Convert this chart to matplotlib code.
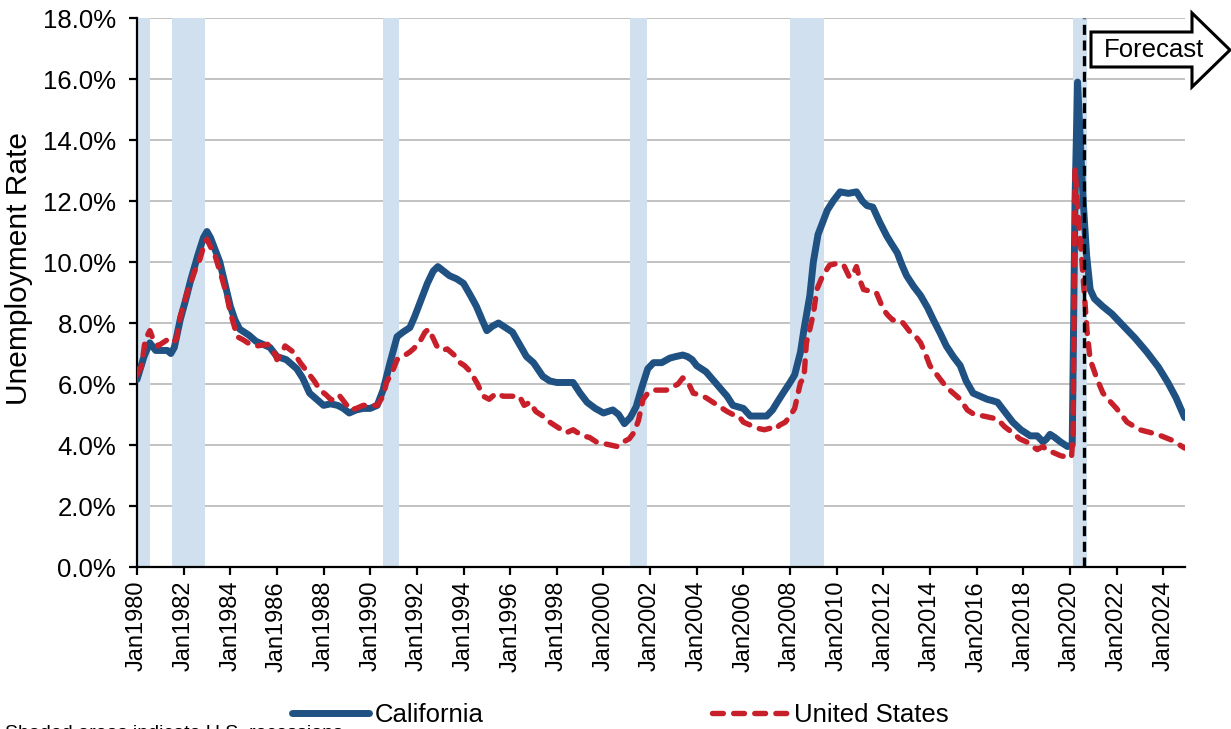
import matplotlib.pyplot as plt
from matplotlib.patches import Polygon

plt.rcParams['font.family'] = ['Liberation Sans', 'DejaVu Sans']

# California unemployment rate (%)
ca_years = [1980.0, 1980.3, 1980.55, 1980.8, 1981.0, 1981.3, 1981.45, 1981.6, 1981.85, 1982.1,
            1982.3, 1982.6, 1982.85, 1983.0, 1983.15, 1983.35, 1983.55, 1983.8, 1984.0, 1984.2,
            1984.4, 1984.8, 1985.1, 1985.4, 1985.7, 1986.0, 1986.4, 1986.85, 1987.1, 1987.4,
            1987.7, 1988.0, 1988.3, 1988.6, 1988.85, 1989.1, 1989.4, 1989.7, 1990.0, 1990.3,
            1990.55, 1990.85, 1991.15, 1991.4, 1991.7, 1991.9, 1992.15, 1992.45, 1992.7, 1992.9,
            1993.15, 1993.4, 1993.7, 1994.0, 1994.3, 1994.55, 1994.8, 1995.0, 1995.25, 1995.5,
            1995.8, 1996.1, 1996.4, 1996.7, 1997.0, 1997.4, 1997.7, 1998.0, 1998.4, 1998.7,
            1999.0, 1999.3, 1999.65, 2000.0, 2000.4, 2000.65, 2000.9, 2001.15, 2001.4, 2001.65,
            2001.9, 2002.15, 2002.5, 2002.85, 2003.1, 2003.4, 2003.6, 2003.8, 2004.0, 2004.4,
            2004.85, 2005.3, 2005.55, 2006.0, 2006.3, 2006.65, 2007.0, 2007.25, 2007.45, 2007.7,
            2008.0, 2008.2, 2008.45, 2008.6, 2008.85, 2009.0, 2009.2, 2009.4, 2009.6, 2009.85,
            2010.15, 2010.5, 2010.85, 2011.1, 2011.3, 2011.55, 2011.85, 2012.15, 2012.35, 2012.6,
            2012.8, 2013.0, 2013.3, 2013.6, 2013.9, 2014.15, 2014.45, 2014.7, 2015.0, 2015.3,
            2015.55, 2015.85, 2016.15, 2016.45, 2016.7, 2016.9, 2017.2, 2017.55, 2017.9, 2018.3,
            2018.6, 2018.85, 2019.0, 2019.15, 2019.35, 2019.6, 2019.9, 2020.1, 2020.22, 2020.33,
            2020.57, 2020.72, 2020.87, 2021.05, 2021.4, 2021.8, 2022.3, 2022.8, 2023.3, 2023.8,
            2024.2, 2024.55, 2024.92]
ca_rate = [6.15, 6.9, 7.35, 7.1, 7.1, 7.1, 7.0, 7.2, 8.1, 8.8,
           9.4, 10.2, 10.8, 11.0, 10.8, 10.4, 10.0, 9.2, 8.55, 8.1,
           7.8, 7.6, 7.4, 7.3, 7.2, 6.9, 6.8, 6.5, 6.2, 5.7,
           5.5, 5.3, 5.35, 5.3, 5.2, 5.05, 5.15, 5.2, 5.2, 5.3,
           5.8, 6.7, 7.55, 7.7, 7.85, 8.2, 8.7, 9.3, 9.7, 9.85,
           9.7, 9.55, 9.45, 9.3, 8.9, 8.55, 8.1, 7.75, 7.9, 8.0,
           7.85, 7.7, 7.3, 6.9, 6.7, 6.25, 6.1, 6.05, 6.05, 6.05,
           5.7, 5.4, 5.2, 5.05, 5.15, 5.0, 4.7, 4.9, 5.25, 5.9,
           6.5, 6.7, 6.7, 6.85, 6.9, 6.95, 6.9, 6.8, 6.6, 6.4,
           6.0, 5.6, 5.3, 5.2, 4.95, 4.95, 4.95, 5.15, 5.4, 5.7,
           6.05, 6.3, 7.05, 7.8, 8.9, 10.0, 10.9, 11.3, 11.7, 12.0,
           12.3, 12.25, 12.3, 12.0, 11.85, 11.8, 11.3, 10.85, 10.6, 10.3,
           9.9, 9.55, 9.2, 8.9, 8.5, 8.1, 7.65, 7.25, 6.9, 6.6,
           6.1, 5.7, 5.6, 5.5, 5.45, 5.4, 5.1, 4.75, 4.5, 4.3,
           4.3, 4.1, 4.2, 4.35, 4.25, 4.1, 3.95, 4.0, 12.0, 15.9,
           12.0, 10.2, 9.1, 8.8, 8.55, 8.3, 7.9, 7.5, 7.05, 6.55,
           6.05, 5.55, 4.9]

# United States unemployment rate (%)
us_years = [1980.0, 1980.2, 1980.35, 1980.55, 1980.7, 1980.9, 1981.1, 1981.3, 1981.55, 1981.7,
            1981.85, 1982.15, 1982.5, 1982.7, 1982.85, 1983.0, 1983.15, 1983.35, 1983.65, 1983.85,
            1984.0, 1984.3, 1984.55, 1984.85, 1985.15, 1985.6, 1985.85, 1986.0, 1986.2, 1986.35,
            1986.7, 1987.0, 1987.3, 1987.6, 1987.85, 1988.1, 1988.3, 1988.5, 1988.7, 1988.95,
            1989.15, 1989.4, 1989.7, 1990.0, 1990.3, 1990.55, 1990.7, 1991.0, 1991.15, 1991.4,
            1991.7, 1991.85, 1992.1, 1992.35, 1992.5, 1992.7, 1992.85, 1993.1, 1993.3, 1993.6,
            1993.85, 1994.05, 1994.3, 1994.6, 1994.85, 1995.1, 1995.4, 1995.7, 1996.0, 1996.4,
            1996.6, 1996.85, 1997.1, 1997.4, 1997.7, 1998.0, 1998.4, 1998.7, 1999.1, 1999.4,
            1999.7, 2000.0, 2000.3, 2000.6, 2000.85, 2001.1, 2001.3, 2001.5, 2001.7, 2001.9,
            2002.15, 2002.4, 2002.7, 2002.95, 2003.2, 2003.4, 2003.6, 2003.85, 2004.1, 2004.4,
            2004.7, 2005.0, 2005.3, 2005.55, 2005.8, 2006.0, 2006.3, 2006.6, 2006.9, 2007.15,
            2007.35, 2007.55, 2007.8, 2008.0, 2008.2, 2008.45, 2008.6, 2008.7, 2008.85, 2009.0,
            2009.15, 2009.4, 2009.7, 2010.0, 2010.3, 2010.55, 2010.7, 2010.85, 2011.0, 2011.15,
            2011.4, 2011.7, 2012.0, 2012.2, 2012.4, 2012.65, 2012.85, 2013.15, 2013.35, 2013.6,
            2013.8, 2014.0, 2014.2, 2014.45, 2014.7, 2015.0, 2015.3, 2015.6, 2015.9, 2016.3,
            2016.6, 2016.9, 2017.2, 2017.55, 2017.85, 2018.15, 2018.4, 2018.6, 2018.85, 2019.05,
            2019.3, 2019.6, 2019.9, 2020.07, 2020.14, 2020.22, 2020.35, 2020.52, 2020.74, 2020.87,
            2021.17, 2021.42, 2021.7, 2022.0, 2022.45, 2023.0, 2023.75, 2024.4, 2024.92]
us_rate = [6.3, 6.6, 7.45, 7.75, 7.45, 7.25, 7.35, 7.45, 7.35, 7.5,
           8.2, 9.0, 9.75, 10.1, 10.5, 10.75, 10.5, 10.2, 9.45, 8.9,
           8.35, 7.55, 7.45, 7.3, 7.25, 7.3, 7.1, 6.8, 7.0, 7.25,
           7.05, 6.7, 6.4, 6.1, 5.8, 5.65, 5.5, 5.45, 5.6, 5.35,
           5.15, 5.2, 5.3, 5.3, 5.3, 5.6, 6.05, 6.5, 6.8, 6.9,
           7.05, 7.15, 7.35, 7.7, 7.8, 7.5, 7.25, 7.1, 7.15, 6.95,
           6.7, 6.6, 6.4, 6.0, 5.6, 5.5, 5.7, 5.6, 5.6, 5.6,
           5.3, 5.4, 5.1, 4.95, 4.75, 4.6, 4.4, 4.5, 4.3, 4.25,
           4.1, 4.05, 4.0, 3.95, 4.1, 4.2, 4.4, 4.8, 5.5, 5.7,
           5.8, 5.8, 5.8, 5.9, 6.0, 6.2, 6.1, 5.7, 5.65, 5.55,
           5.4, 5.25, 5.1, 5.0, 4.95, 4.75, 4.65, 4.55, 4.5, 4.55,
           4.5, 4.65, 4.75, 4.95, 5.2, 6.05, 6.2, 7.35, 7.8, 8.3,
           9.1, 9.55, 9.9, 9.95, 9.9, 9.5, 9.6, 9.85, 9.4, 9.1,
           9.05, 9.0, 8.45, 8.25, 8.1, 8.1, 8.0, 7.7, 7.6, 7.35,
           7.0, 6.6, 6.4, 6.15, 5.9, 5.7, 5.5, 5.15, 5.0, 4.95,
           4.9, 4.85, 4.6, 4.4, 4.2, 4.1, 3.95, 3.85, 3.95, 3.8,
           3.75, 3.65, 3.6, 3.6, 4.4, 13.1, 11.6, 10.0, 7.7, 6.8,
           6.15, 5.7, 5.45, 5.2, 4.75, 4.5, 4.35, 4.15, 3.9]

# recessions (shaded)
rec_start = [1980.0, 1981.5, 1990.55, 2001.15, 2008.0, 2020.12]
rec_end = [1980.56, 1982.9, 1991.23, 2001.87, 2009.46, 2020.72]

forecast_start = 2020.6
tick_years = list(range(1980, 2025, 2))

fig = plt.figure(figsize=(12.31, 7.29), dpi=100)
ax = fig.add_axes([0.1113, 0.2222, 0.8514, 0.7531])

for s, e in zip(rec_start, rec_end):
    ax.axvspan(s, e, color='#D0E0EE', lw=0, zorder=1)

ax.plot(ca_years, ca_rate, color='#1F5183', lw=5.0, solid_joinstyle='round',
        solid_capstyle='round', label='California', zorder=3)
ax.plot(us_years, us_rate, color='#C8202B', lw=3.9, dashes=(2, 1.9),
        dash_capstyle='round', label='United States', zorder=4)
ax.axvline(forecast_start, color='black', lw=2.4, dashes=(3, 1.7), zorder=5)

ax.set_xlim(1980, 2024.94)
ax.set_ylim(0, 18)
ax.set_yticks(range(0, 19, 2))
ax.yaxis.set_major_formatter(lambda v, p: f'{v:.1f}%')
ax.set_xticks(tick_years)
ax.set_xticklabels([f'Jan{y}' for y in tick_years], rotation=90)
ax.grid(axis='y', color='#BDBDBD', lw=1.3, zorder=0)
ax.set_axisbelow(True)
for side in ['top', 'right']:
    ax.spines[side].set_visible(False)
for side in ['left', 'bottom']:
    ax.spines[side].set_linewidth(1.6)
ax.tick_params(length=6, width=1.6)
ax.tick_params(axis='x', labelsize=17, pad=4)
ax.tick_params(axis='y', labelsize=18.5, pad=9)
ax.set_ylabel('Unemployment Rate', fontsize=21.5)
ax.yaxis.set_label_coords(-0.099, 0.543)

# forecast block arrow (figure pixels)
W, H = 1231, 729
arrow_px = [(1091, 32), (1192, 32), (1192, 13), (1230, 50), (1192, 87), (1192, 67), (1091, 67)]
arrow = Polygon([(x / W, 1 - y / H) for x, y in arrow_px], closed=True,
                transform=fig.transFigure, fc='white', ec='black', lw=2.2,
                joinstyle='miter', clip_on=False)
fig.add_artist(arrow)
fig.text(1154 / W, 1 - 50 / H, 'Forecast', fontsize=18.5, ha='center', va='center')

fig.legend(loc='center', bbox_to_anchor=(0.504, 1 - 715 / H), ncol=2, frameon=False,
           fontsize=18.5, handlelength=3.0, handletextpad=0.2, columnspacing=8.9)
fig.text(5 / W, 1 - 725 / H, 'Shaded areas indicate U.S. recessions', fontsize=14,
         ha='left', va='top')

plt.savefig('out.png', dpi=100)
plt.close()
